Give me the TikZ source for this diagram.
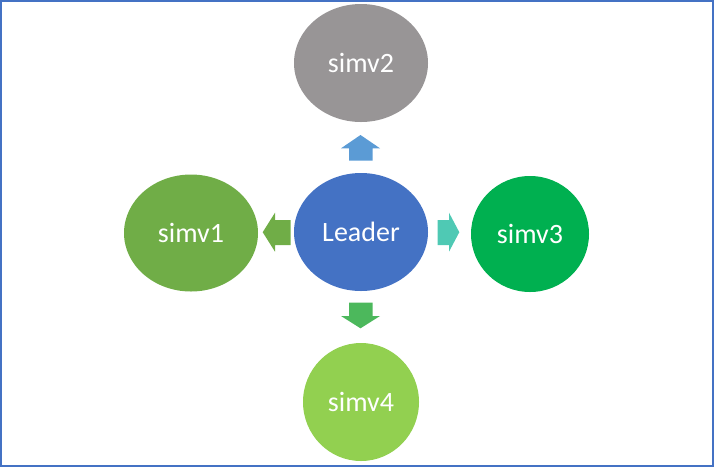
\documentclass[tikz,border=0pt]{standalone}
\usepackage{fontspec}
\setmainfont{Carlito}
\usetikzlibrary{shapes.geometric}
\definecolor{frameblue}{HTML}{4472C4}
\definecolor{leaderc}{HTML}{4472C4}
\definecolor{simvtwo}{HTML}{989596}
\definecolor{simvone}{HTML}{70AD47}
\definecolor{simvthree}{HTML}{00B050}
\definecolor{simvfour}{HTML}{92D050}
\definecolor{arrup}{HTML}{5B9BD5}
\definecolor{arrleft}{HTML}{70AD47}
\definecolor{arrright}{HTML}{4FC9B4}
\definecolor{arrdown}{HTML}{4CB85C}
\tikzset{
  bubble/.style={ellipse, inner sep=0pt, text=white, font=\fontsize{28}{30}\selectfont},
  blockarrow/.style={draw=none}
}
\begin{document}
\begin{tikzpicture}[x=1pt,y=-1pt]
\useasboundingbox (0,0) rectangle (714,467);
\draw[frameblue, line width=2pt] (1,1) rectangle (712.5,465.5);
\node[bubble, fill=leaderc, minimum width=134pt, minimum height=118pt] (leader) at (361,232) {Leader};
\node[bubble, fill=simvtwo, minimum width=134pt, minimum height=118pt] (simv2) at (361,63) {simv2};
\node[bubble, fill=simvone, minimum width=134pt, minimum height=117pt] (simv1) at (191,233) {simv1};
\node[bubble, fill=simvthree, minimum width=118pt, minimum height=116pt] (simv3) at (530,234) {simv3};
\node[bubble, fill=simvfour, minimum width=116pt, minimum height=118pt] (simv4) at (361,402) {simv4};
% up arrow
\fill[arrup, blockarrow] (360.5,135) -- (380,148.3) -- (372.7,148.3) -- (372.7,160.7) -- (349,160.7) -- (349,148.3) -- (341,148.3) -- cycle;
% left arrow
\fill[arrleft, blockarrow] (262.7,232.2) -- (275,212.7) -- (275,220) -- (290.7,220) -- (290.7,245) -- (275,245) -- (275,251.7) -- cycle;
% right arrow
\fill[arrright, blockarrow] (459.3,232.2) -- (449,212.7) -- (449,220) -- (437.7,220) -- (437.7,245) -- (449,245) -- (449,251.7) -- cycle;
% down arrow
\fill[arrdown, blockarrow] (360.5,328.3) -- (380,316) -- (372.7,316) -- (372.7,302.7) -- (349,302.7) -- (349,316) -- (341,316) -- cycle;
\end{tikzpicture}
\end{document}
